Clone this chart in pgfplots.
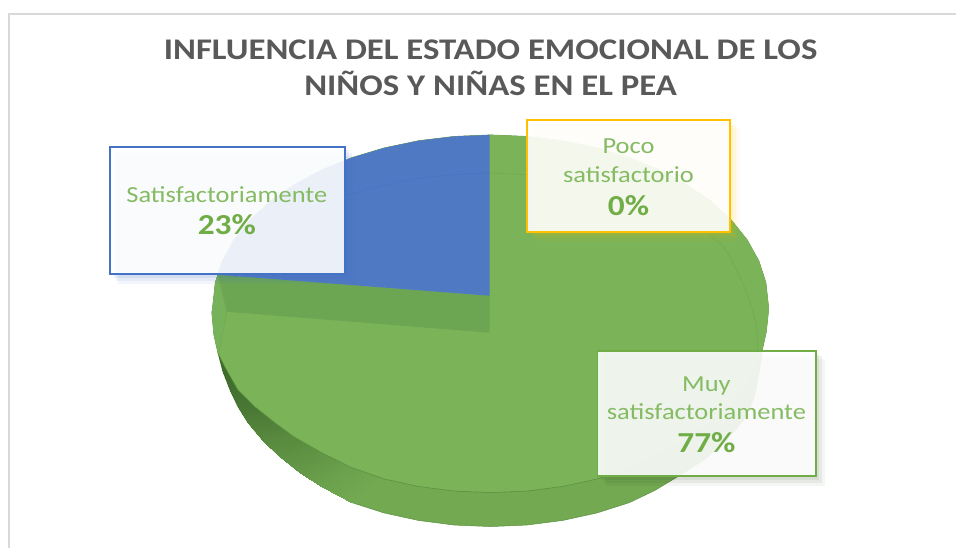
\documentclass[border=0pt]{standalone}
\usepackage{fontspec}
\setmainfont{Carlito}
\usepackage{graphicx}
\usepackage{pgfplots}
\pgfplotsset{compat=1.18}

\definecolor{titlegray}{HTML}{595959}
\definecolor{framegray}{HTML}{D9D9D9}
\definecolor{topgreen}{RGB}{122,179,88}
\definecolor{wallgreen}{RGB}{114,169,81}
\definecolor{cutgreen}{RGB}{108,166,82}
\definecolor{facetgreen}{RGB}{118,178,90}
\definecolor{edgegreen}{RGB}{92,145,64}
\definecolor{slicenblue}{RGB}{80,121,195}
\definecolor{boxblue}{HTML}{4472C4}
\definecolor{boxyellow}{HTML}{FFC000}
\definecolor{boxgreen}{HTML}{70AD47}
\definecolor{labelgreen}{RGB}{132,187,99}

\newcommand{\wide}[1]{\scalebox{1.15}[1]{#1}}

% shares read from the labels: Muy satisfactoriamente 77, Satisfactoriamente 23, Poco satisfactorio 0
\begin{document}
\begin{tikzpicture}
\begin{axis}[
    scale only axis,
    width=957pt,
    height=548pt,
    xmin=0, xmax=957,
    ymin=0, ymax=548,
    y dir=reverse,
    hide axis,
    clip=false,
    colormap={wall}{rgb255=(62,106,44) rgb255=(114,169,81)},
    point meta min=0,
    point meta max=1,
    every axis plot/.append style={no marks},
]

% keeps the whole canvas in the page
\path (axis cs:0,0) rectangle (axis cs:957,548);

% frame of the chart
\addplot[framegray, line width=1.6pt] coordinates {(9,548)(9,14)(957,14)};

% silhouette of the disc
\addplot[draw=edgegreen, line width=0.5pt, fill=wallgreen] table {
213 305
215.4 282.8
222.5 261
234.2 240
250.2 220
270.4 201.5
294.4 184.8
321.8 170.1
352 157.8
384.6 148
419 140.8
454.7 136.5
491 135
527.3 136.5
563 140.8
597.4 148
630 157.8
660.2 170.1
687.6 184.8
711.6 201.5
731.8 220
747.8 240
759.5 261
766.6 282.8
769 305
769 313
767 332
763 350
760 372
755 397
746 418
728 440
705 460
680 476
655 491
630 503
597.4 513.4
563 520.9
527.3 525.5
491 527
454.7 525.5
419 520.9
384.6 513.4
352 503
322 487
300 473
280 457
263 441
248 423
238 407
230 390
223 372
218 353
214 335
212 313
} --cycle;

% dark side of the wall, lower left
\addplot[patch, patch type=rectangle, shader=interp, point meta=explicit]
    table[x=x, y=y, meta=c] {
x y c
218 353 0
223 372 0
228 365 0
222 351 0
223 372 0
230 390 0.1
241 388 0.1
228 365 0
230 390 0.1
238 407 0.2
258 405 0.2
241 388 0.1
238 407 0.2
248 423 0.35
278 421 0.35
258 405 0.2
248 423 0.35
263 441 0.5
297 434 0.5
278 421 0.35
263 441 0.5
280 457 0.62
318 445 0.62
297 434 0.5
280 457 0.62
300 473 0.75
338 456 0.75
318 445 0.62
300 473 0.75
322 487 0.88
355 465 0.88
338 456 0.75
322 487 0.88
352 503 1
386 477 1
355 465 0.88
};

% top face
\addplot[draw=none, fill=topgreen] table {
213 305
215.4 282.8
222.5 261
234.2 240
250.2 220
270.4 201.5
294.4 184.8
321.8 170.1
352 157.8
384.6 148
419 140.8
454.7 136.5
491 135
527.3 136.5
563 140.8
597.4 148
630 157.8
660.2 170.1
687.6 184.8
711.6 201.5
731.8 220
747.8 240
759.5 261
766.6 282.8
769 305
769 313
767 332
763 350
759.5 360.3
747.8 382.5
731.8 403.5
711.6 423
687.6 440.6
660.2 456
630 469
597.4 479.4
563 486.9
527.3 491.5
491 493
454.7 491.5
419 486.9
384.6 479.4
352 468
321.8 453
294 437
275 423
255 407
238 390
225 367
218 353
214 335
212 313
} --cycle;

% edge between the top face and the wall
\addplot[edgegreen, line width=0.6pt] table {
218 353
225 367
238 390
255 407
275 423
294 437
321.8 453
352 468
384.6 479.4
419 486.9
454.7 491.5
491 493
527.3 491.5
563 486.9
597.4 479.4
630 469
660.2 456
687.6 440.6
711.6 423
731.8 403.5
};

% cut face below the blue slice and the small facet at its end
\addplot[draw=none, fill=cutgreen] coordinates {(490,296)(490,333)(227,312)(218,275)} --cycle;
\addplot[draw=none, fill=facetgreen] coordinates {(218,275)(227,312)(219,353)(214,335)(212,313)(213,305)} --cycle;
\addplot[wallgreen, line width=0.5pt] coordinates {(218,275)(227,312)(219,353)};

% blue slice
\addplot[draw=none, fill=slicenblue] table {
490 135
454.7 136.5
419 140.8
384.6 148
352 157.8
321.8 170.1
294.4 184.8
270.4 201.5
250.2 220
234.2 240
222.5 261
218 275
490 296
} --cycle;

% bevel line on the top face
\addplot[smooth, boxblue!85!slicenblue, line width=0.5pt] coordinates {(235,277.5)(261.5,243.5)(303.6,214)(358.5,192)(422.4,178)(490,173)};
\addplot[smooth, wallgreen, line width=0.5pt] coordinates {(491,173)(559.6,178)(623.5,192)(678,214)(720.5,243.5)(736,268)(749,298)(757,328)(758,352)(752,375)};

% soft shadows of the three label boxes
\addplot[draw=none, fill=boxblue, fill opacity=0.07] coordinates {(118,156)(355,156)(355,284)(118,284)} --cycle;
\addplot[draw=none, fill=boxblue, fill opacity=0.08] coordinates {(116,153)(352,153)(352,281)(116,281)} --cycle;
\addplot[draw=none, fill=boxblue, fill opacity=0.10] coordinates {(114,150)(349,150)(349,278)(114,278)} --cycle;
\addplot[draw=none, fill=boxyellow, fill opacity=0.06] coordinates {(535,128)(740,128)(740,241)(535,241)} --cycle;
\addplot[draw=none, fill=boxyellow, fill opacity=0.08] coordinates {(533,125)(737,125)(737,238)(533,238)} --cycle;
\addplot[draw=none, fill=boxyellow, fill opacity=0.10] coordinates {(530,122)(734,122)(734,235)(530,235)} --cycle;
\addplot[draw=none, fill=black!60!boxgreen, fill opacity=0.05] coordinates {(606,359)(826,359)(826,486)(606,486)} --cycle;
\addplot[draw=none, fill=black!60!boxgreen, fill opacity=0.07] coordinates {(604,356)(823,356)(823,483)(604,483)} --cycle;
\addplot[draw=none, fill=black!60!boxgreen, fill opacity=0.08] coordinates {(601,354)(820,354)(820,480)(601,480)} --cycle;

% label boxes
\addplot[draw=boxblue, line width=1.8pt, fill=white, fill opacity=0.89] coordinates {(110,147)(345,147)(345,274)(110,274)} --cycle;
\addplot[draw=boxyellow, line width=2pt, fill=white, fill opacity=0.90] coordinates {(527,120)(731,120)(731,232)(527,232)} --cycle;
\addplot[draw=boxgreen, line width=1.8pt, fill=white, fill opacity=0.89] coordinates {(598,351)(817,351)(817,476)(598,476)} --cycle;

\node[text=titlegray, align=center, font=\fontsize{30}{36}\selectfont\bfseries] at (axis cs:491,68)
    {\scalebox{1.16}[1]{INFLUENCIA DEL ESTADO EMOCIONAL DE LOS}\\\scalebox{1.16}[1]{NIÑOS Y NIÑAS EN EL PEA}};

\node[text=labelgreen, align=center, font=\fontsize{23}{30}\selectfont] at (axis cs:227,210.5)
    {\wide{Satisfactoriamente}\\[2pt]{\fontsize{29}{30}\selectfont\bfseries\color{boxgreen}\wide{23\%}}};
\node[text=labelgreen, align=center, font=\fontsize{23}{29}\selectfont] at (axis cs:629,177)
    {\wide{Poco}\\\wide{satisfactorio}\\[4pt]{\fontsize{29}{29}\selectfont\bfseries\color{boxgreen}\wide{0\%}}};
\node[text=labelgreen, align=center, font=\fontsize{23}{28}\selectfont] at (axis cs:707,415.5)
    {\wide{Muy}\\\wide{satisfactoriamente}\\[5pt]{\fontsize{29}{28}\selectfont\bfseries\color{boxgreen}\wide{77\%}}};

\end{axis}
\end{tikzpicture}
\end{document}
